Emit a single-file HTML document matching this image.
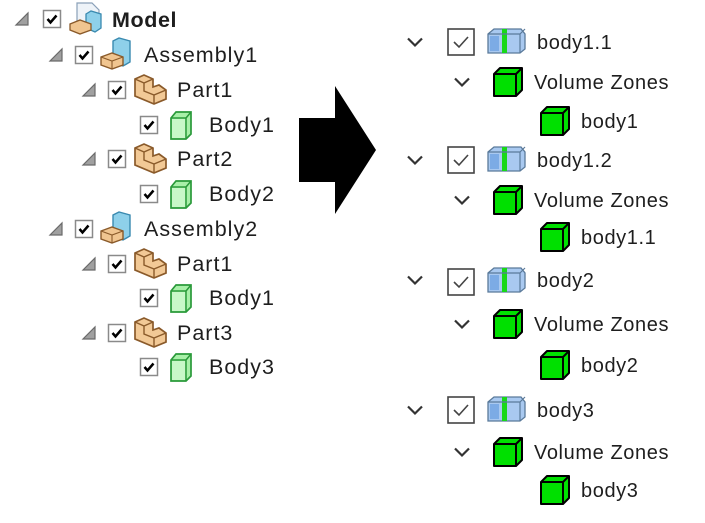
<!DOCTYPE html>
<html><head><meta charset="utf-8"><style>
html,body{margin:0;padding:0;background:#fff;width:705px;height:523px;overflow:hidden}
svg{display:block}
text{font-family:"Liberation Sans",sans-serif;font-size:20px;fill:#1e1e1e}
text.l{font-size:21.5px;letter-spacing:1px}
text.r{letter-spacing:0.6px}
</style></head><body>
<svg width="705" height="523" viewBox="0 0 705 523">
<defs>
 <g id="tri"><path d="M-6,6 L6,6 L6,-6 Z" fill="#a0a0a0" stroke="#6a6a6a" stroke-width="1.2"/></g>
 <g id="cb"><rect x="-8.5" y="-8.5" width="17" height="17" fill="#fff" stroke="#8a8a8a" stroke-width="1.5"/><path d="M-4.5,0 L-1.5,3.5 L4.5,-3.5" fill="none" stroke="#000" stroke-width="2.5"/></g>
 <g id="bodyL"><path d="M-10,-7 L-5,-13 L10,-13 L10,9 L5,14 L-10,14 Z" fill="#a8f0a8" stroke="#2a9a3a" stroke-width="1.7"/><rect x="-9" y="-6" width="13" height="19" fill="#c8f8c8"/><path d="M-10,-7 L5,-7 L5,14 M5,-7 L10,-13" fill="none" stroke="#2a9a3a" stroke-width="1.5"/></g>
 <g id="part"><path d="M-15,-11 L-6,-15 L3,-11 L3,-3 L9,-5 L16,0 L16,9 L4,14 L-15,6 Z" fill="#f2c996" stroke="#8a5a2a" stroke-width="1.7"/><path d="M-15,-11 L-6,-7 L3,-11 M-6,-7 L-6,1 L4,5 L16,0 M4,5 L4,14" fill="none" stroke="#8a5a2a" stroke-width="1.4"/></g>
 <g id="asm"><path d="M-3,-14 L3,-17 L14,-14 L14,7 L7,11 L-3,7 Z" fill="#8ed0ea" stroke="#3a8ab0" stroke-width="1.4"/><path d="M-15,2 L-4,-2 L7,2 L7,10 L-4,14 L-15,10 Z" fill="#f0c590" stroke="#8a5a2a" stroke-width="1.4"/><path d="M-15,2 L-4,6 L7,2 M-4,6 L-4,14" fill="none" stroke="#8a5a2a" stroke-width="1.1"/></g>
 <g id="model"><path d="M-9,-17 L6,-17 L13,-10 L13,6 L-9,6 Z" fill="#eef3f8" stroke="#8aa0b8" stroke-width="1.2"/><path d="M0,-6 L5,-9 L15,-6 L15,8 L9,12 L0,8 Z" fill="#8ed0ea" stroke="#3a8ab0" stroke-width="1.3"/><path d="M-16,4 L-6,0 L5,4 L5,10 L-6,14 L-16,10 Z" fill="#f0c590" stroke="#8a5a2a" stroke-width="1.3"/></g>
 <g id="chev"><path d="M-7,-3.5 L0,3.5 L7,-3.5" fill="none" stroke="#333" stroke-width="2.2"/></g>
 <g id="cbR"><rect x="-13" y="-13" width="26" height="26" fill="#fff" stroke="#444" stroke-width="1.6"/><path d="M-7,0 L-2,5 L7,-5" fill="none" stroke="#444" stroke-width="1.6"/></g>
 <g id="gcube"><path d="M-14,-8 L-8,-14 L14,-14 L14,8 L8,14 L-14,14 Z" fill="#00e000" stroke="#000" stroke-width="2" stroke-linejoin="round"/><path d="M-14,-8 L8,-8 L8,14 M8,-8 L14,-14" fill="none" stroke="#000" stroke-width="2"/></g>
 <g id="bcube"><path d="M-18,-7 L-12,-12 L15,-12 L19,-7 L19,8 L14,12 L-18,12 Z" fill="#a9c9f0" stroke="#5a7a9a" stroke-width="1.3"/><rect x="-4" y="-12" width="5" height="24" fill="#18d818"/><path d="M-18,-7 L14,-7 L14,12 M14,-7 L19,-12" fill="none" stroke="#5a7a9a" stroke-width="1.2"/><rect x="-16" y="-5" width="9" height="15" fill="#6a9ee0" opacity=".7"/></g>
</defs>

<!-- Left tree -->
<use href="#tri" x="22" y="19"/><use href="#cb" x="52" y="19"/><use href="#model" x="86" y="20"/><text class="l" x="112" y="27" style="font-weight:bold;letter-spacing:0.6px">Model</text>
<use href="#tri" x="56" y="55"/><use href="#cb" x="84" y="55"/><use href="#asm" x="116" y="55"/><text class="l" x="144" y="62">Assembly1</text>
<use href="#tri" x="89" y="90"/><use href="#cb" x="117" y="90"/><use href="#part" x="150" y="90"/><text class="l" x="177" y="97">Part1</text>
<use href="#cb" x="149" y="125"/><use href="#bodyL" x="181" y="125"/><text class="l" x="209" y="132">Body1</text>
<use href="#tri" x="89" y="159"/><use href="#cb" x="117" y="159"/><use href="#part" x="150" y="159"/><text class="l" x="177" y="166">Part2</text>
<use href="#cb" x="149" y="194"/><use href="#bodyL" x="181" y="194"/><text class="l" x="209" y="201">Body2</text>
<use href="#tri" x="56" y="229"/><use href="#cb" x="84" y="229"/><use href="#asm" x="116" y="229"/><text class="l" x="144" y="236">Assembly2</text>
<use href="#tri" x="89" y="264"/><use href="#cb" x="117" y="264"/><use href="#part" x="150" y="264"/><text class="l" x="177" y="271">Part1</text>
<use href="#cb" x="149" y="298"/><use href="#bodyL" x="181" y="298"/><text class="l" x="209" y="305">Body1</text>
<use href="#tri" x="89" y="333"/><use href="#cb" x="117" y="333"/><use href="#part" x="150" y="333"/><text class="l" x="177" y="340">Part3</text>
<use href="#cb" x="149" y="367"/><use href="#bodyL" x="181" y="367"/><text class="l" x="209" y="374">Body3</text>

<!-- Arrow -->
<path d="M299,118 L335,118 L335,86 L376,150 L335,214 L335,182 L299,182 Z" fill="#000"/>

<!-- Right tree -->
<g>
<use href="#chev" x="415" y="42"/><use href="#cbR" x="461" y="42"/><use href="#bcube" x="506" y="41"/><text class="r" x="537" y="49">body1.1</text>
<use href="#chev" x="462" y="82"/><use href="#gcube" x="508" y="82"/><text class="r" x="534" y="89">Volume Zones</text>
<use href="#gcube" x="555" y="121"/><text class="r" x="581" y="128">body1</text>

<use href="#chev" x="415" y="160"/><use href="#cbR" x="461" y="160"/><use href="#bcube" x="506" y="159"/><text class="r" x="537" y="167">body1.2</text>
<use href="#chev" x="462" y="200"/><use href="#gcube" x="508" y="200"/><text class="r" x="534" y="207">Volume Zones</text>
<use href="#gcube" x="555" y="237"/><text class="r" x="581" y="244">body1.1</text>

<use href="#chev" x="415" y="280"/><use href="#cbR" x="461" y="282"/><use href="#bcube" x="506" y="280"/><text class="r" x="537" y="287">body2</text>
<use href="#chev" x="462" y="324"/><use href="#gcube" x="508" y="324"/><text class="r" x="534" y="331">Volume Zones</text>
<use href="#gcube" x="555" y="365"/><text class="r" x="581" y="372">body2</text>

<use href="#chev" x="415" y="410"/><use href="#cbR" x="461" y="410"/><use href="#bcube" x="506" y="409"/><text class="r" x="537" y="417">body3</text>
<use href="#chev" x="462" y="452"/><use href="#gcube" x="508" y="452"/><text class="r" x="534" y="459">Volume Zones</text>
<use href="#gcube" x="555" y="490"/><text class="r" x="581" y="497">body3</text>
</g>
</svg>
</body></html>
